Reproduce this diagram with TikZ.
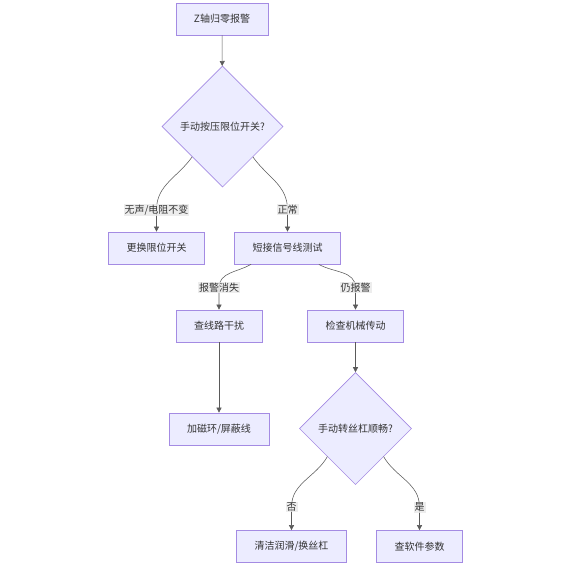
\documentclass[tikz,border=0pt]{standalone}
\usepackage{fontspec}
\setmainfont{Noto Sans CJK SC}
\usepackage{tikz}
\usetikzlibrary{shapes.geometric, arrows.meta, positioning, calc}
\definecolor{nodefill}{HTML}{ECECFF}
\definecolor{nodeline}{HTML}{A48BE3}
\definecolor{edgeline}{HTML}{5A5A5A}
\definecolor{lblfill}{HTML}{E8E8E8}
\definecolor{txtgray}{HTML}{333333}
\tikzset{
  arr/.style={-{Triangle[length=5pt,width=5pt]}, draw=edgeline, line width=0.55pt},
  lbl/.style={fill=lblfill, fill opacity=0.8, text opacity=1, inner sep=1pt,
              font=\fontsize{10}{12}\selectfont, text=txtgray},
}

\begin{document}
\begin{tikzpicture}[x=1pt, y=1pt]
  % Define styles
  \tikzstyle{process} = [rectangle, draw=nodeline, fill=nodefill, line width=0.7pt,
                         minimum height=32pt, inner xsep=18pt, text=txtgray,
                         font=\fontsize{10}{12}\selectfont]
  \tikzstyle{decision} = [diamond, draw=nodeline, fill=nodefill, line width=0.55pt,
                          aspect=1, inner sep=0pt, text=txtgray,
                          font=\fontsize{10}{12}\selectfont]

  \useasboundingbox (0,0) rectangle (572,-584);

  % Nodes
  \node [process] (alarm) at (222,-19) {Z轴归零报警};
  \node [decision, minimum width=121pt, minimum height=121pt] (press) at (222.5,-126.5)
    {手动按压限位开关?};
  \node [process] (swap) at (156.5,-248) {更换限位开关};
  \node [process] (short) at (287.5,-248) {短接信号线测试};
  \node [process] (noise) at (219,-326) {查线路干扰};
  \node [process] (mech) at (355.5,-326) {检查机械传动};
  \node [process] (ferrite) at (219,-429) {加磁环/屏蔽线};
  \node [decision, minimum width=112pt, minimum height=112pt] (screw) at (355.5,-428.5)
    {手动转丝杠顺畅?};
  \node [process] (clean) at (291.5,-546.5) {清洁润滑/换丝杠};
  \node [process] (param) at (419.5,-546.5) {查软件参数};

  % Edges
  \draw [arr] (alarm) -- (press);

  \draw [arr] (press.south west) to[out=-125, in=90] ([yshift=22pt]swap.north)
    -- node[lbl, pos=0] {无声/电阻不变} (swap);
  \draw [arr] (press.south east) to[out=-55, in=90] ([yshift=22pt]short.north)
    -- node[lbl, pos=0] {正常} (short);

  \draw [arr] ([xshift=17pt]short.south west) to[out=-150, in=90] ([yshift=22pt]noise.north)
    -- node[lbl, pos=0] {报警消失} (noise);
  \draw [arr] ([xshift=-22pt]short.south east) to[out=-30, in=90] ([yshift=22pt]mech.north)
    -- node[lbl, pos=0] {仍报警} (mech);

  \draw [arr] (noise) -- (ferrite);
  \draw [arr] (mech) -- (screw);

  \draw [arr] (screw.south west) to[out=-120, in=90] ([yshift=23pt]clean.north)
    -- node[lbl, pos=0] {否} (clean);
  \draw [arr] (screw.south east) to[out=-60, in=90] ([yshift=23pt]param.north)
    -- node[lbl, pos=0] {是} (param);
\end{tikzpicture}
\end{document}
